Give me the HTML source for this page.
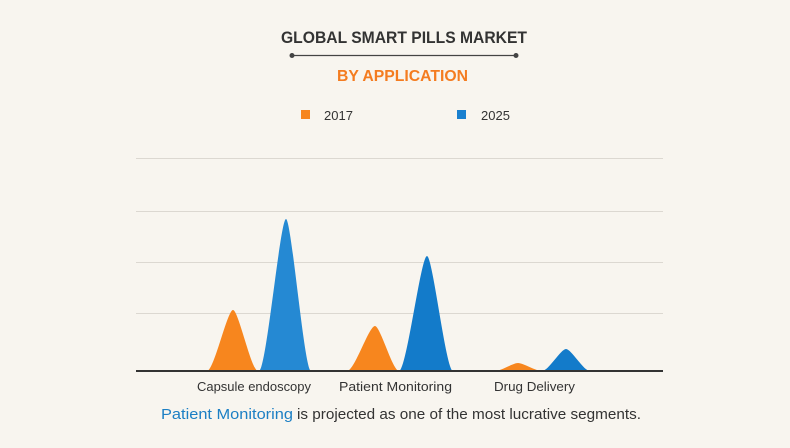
<!DOCTYPE html>
<html><head><meta charset="utf-8">
<style>
html,body{margin:0;padding:0;background:#f8f5ef;}
svg{display:block;}
text{font-family:"Liberation Sans",Arial,sans-serif;}
</style></head>
<body>
<svg width="790" height="448" viewBox="0 0 790 448" xmlns="http://www.w3.org/2000/svg">
<rect width="790" height="448" fill="#f8f5ef"/>
<text x="281" y="43" font-size="17" font-weight="bold" fill="#333" textLength="246" lengthAdjust="spacingAndGlyphs">GLOBAL SMART PILLS MARKET</text>
<line x1="292" y1="55.5" x2="516" y2="55.5" stroke="#444" stroke-width="1.3"/>
<circle cx="292" cy="55.5" r="2.5" fill="#444"/>
<circle cx="516" cy="55.5" r="2.5" fill="#444"/>
<text x="337" y="81" font-size="16" font-weight="bold" fill="#f47c20" textLength="131" lengthAdjust="spacingAndGlyphs">BY APPLICATION</text>
<rect x="301" y="110" width="9" height="9" fill="#f7861e"/>
<text x="324" y="120" font-size="13" fill="#333">2017</text>
<rect x="457" y="110" width="9" height="9" fill="#1a80cf"/>
<text x="481" y="120" font-size="13" fill="#333">2025</text>
<g stroke="#dcd8d1" stroke-width="1">
<line x1="136" y1="158.5" x2="663" y2="158.5"/>
<line x1="136" y1="211.5" x2="663" y2="211.5"/>
<line x1="136" y1="262.5" x2="663" y2="262.5"/>
<line x1="136" y1="313.5" x2="663" y2="313.5"/>
</g>
<path d="M207,371 C214,371 227.3,310 233,310 C238.5,310 251.3,371 258,371Z" fill="#f7861e"/>
<path d="M259,371 C266.3,371 280.1,219 286,219 C291.5,219 304.3,371 311,371Z" fill="#2589d3"/>
<path d="M347,371 C354.6,371 368.8,326 375,326 C380.3,326 392.5,371 399,371Z" fill="#f7861e"/>
<path d="M399,371 C406.6,371 420.8,256 427,256 C432.7,256 446,371 453,371Z" fill="#137bca"/>
<path d="M495,371 C501.2,371 512.9,363 518,363 C523.3,363 535.5,371 542,371Z" fill="#f7861e"/>
<path d="M542,371 C548.5,371 560.7,349 566,349 C571.3,349 583.5,371 590,371Z" fill="#137bca"/>
<line x1="136" y1="371" x2="663" y2="371" stroke="#333" stroke-width="2"/>
<text x="197" y="391" font-size="13" fill="#333" textLength="114" lengthAdjust="spacingAndGlyphs">Capsule endoscopy</text>
<text x="339" y="391" font-size="13" fill="#333" textLength="113" lengthAdjust="spacingAndGlyphs">Patient Monitoring</text>
<text x="494" y="391" font-size="13" fill="#333" textLength="81" lengthAdjust="spacingAndGlyphs">Drug Delivery</text>
<text x="161" y="419" font-size="15" fill="#1c7fc4" textLength="132" lengthAdjust="spacingAndGlyphs">Patient Monitoring</text>
<text x="297" y="419" font-size="15" fill="#333" textLength="344" lengthAdjust="spacingAndGlyphs">is projected as one of the most lucrative segments.</text>
</svg>
</body></html>
